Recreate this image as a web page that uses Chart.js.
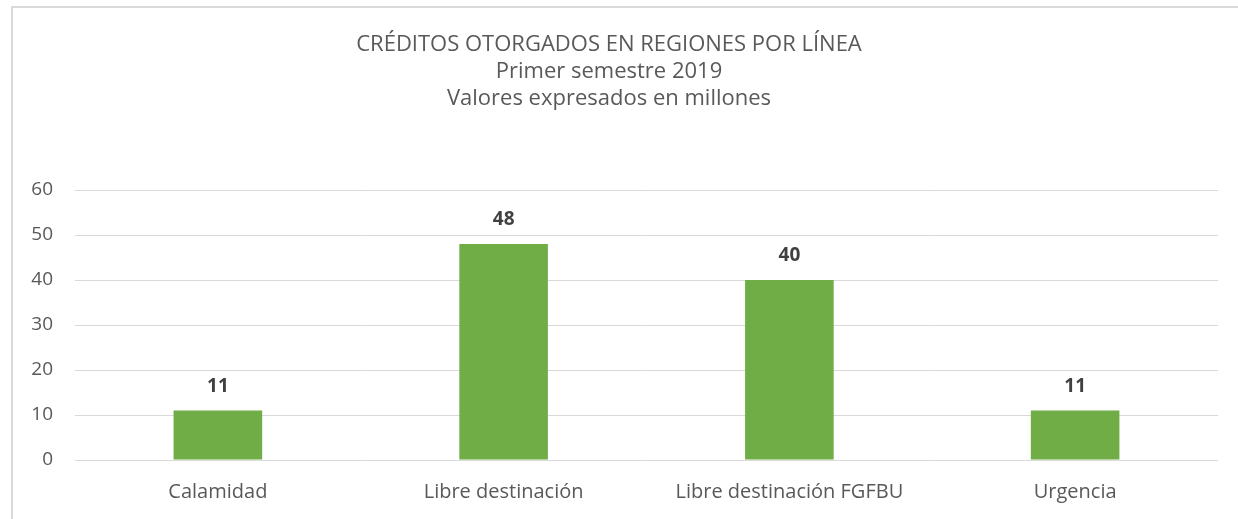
<!DOCTYPE html>
<html>
<head>
<meta charset="utf-8">
<script src="https://cdn.jsdelivr.net/npm/chart.js@4.4.1/dist/chart.umd.min.js"></script>
<style>
  html, body { margin: 0; padding: 0; background: #fff; }
  #frame {
    position: absolute; left: 11px; top: 6px; width: 1240px; height: 520px;
    border-left: 2px solid #d9d9d9; border-top: 2px solid #d9d9d9;
  }
  #wrap { position: absolute; left: 0; top: 0; width: 1238px; height: 519px; }
</style>
</head>
<body>
<div id="frame"></div>
<div id="wrap"><canvas id="chart"></canvas></div>
<script>
/* ===================== DATA ===================== */
const categories = ["Calamidad", "Libre destinación", "Libre destinación FGFBU", "Urgencia"];
const values = [11, 48, 40, 11];
const titleLines = [
  "CRÉDITOS OTORGADOS EN REGIONES POR LÍNEA",
  "Primer semestre 2019",
  "Valores expresados en millones"
];

const FONT = "'Open Sans', Lato, sans-serif";

/* ===================== HELPERS ===================== */
// draws the bold value above each bar
const valueLabels = {
  id: "valueLabels",
  afterDatasetsDraw(chart) {
    const ctx = chart.ctx;
    const meta = chart.getDatasetMeta(0);
    ctx.save();
    ctx.font = "bold 19px " + FONT;
    ctx.fillStyle = "#404040";
    ctx.textAlign = "center";
    ctx.textBaseline = "middle";
    meta.data.forEach((bar, i) => {
      ctx.fillText(values[i], bar.x, bar.y - 24);
    });
    ctx.restore();
  }
};

/* ===================== CHART ===================== */
new Chart(document.getElementById("chart"), {
  type: "bar",
  data: {
    labels: categories,
    datasets: [{
      data: values,
      backgroundColor: "#70AD47",
      borderWidth: 0,
      categoryPercentage: 1,
      barPercentage: 0.31
    }]
  },
  options: {
    responsive: true,
    maintainAspectRatio: false,
    animation: false,
    layout: {
      padding: { top: 0, left: 0, right: 20, bottom: 0 }
    },
    plugins: {
      legend: { display: false },
      tooltip: { enabled: false },
      title: {
        display: true,
        text: titleLines,
        color: "#595959",
        font: { family: FONT, size: 22, weight: "normal", lineHeight: "27px" },
        padding: { top: 31, bottom: 78 }
      }
    },
    scales: {
      x: {
        grid: { display: false, drawTicks: false },
        border: { display: false },
        ticks: {
          color: "#595959",
          font: { family: FONT, size: 20 },
          padding: 20,
          maxRotation: 0
        },
        afterFit: (scale) => { scale.height = 59; }
      },
      y: {
        min: 0,
        max: 60,
        grid: { color: "#d9d9d9", lineWidth: 1, drawTicks: false },
        border: { display: false },
        ticks: {
          stepSize: 10,
          color: "#595959",
          font: { family: FONT, size: 19 },
          padding: 22
        },
        afterFit: (scale) => { scale.width = 75; }
      }
    }
  },
  plugins: [valueLabels]
});
</script>
</body>
</html>
